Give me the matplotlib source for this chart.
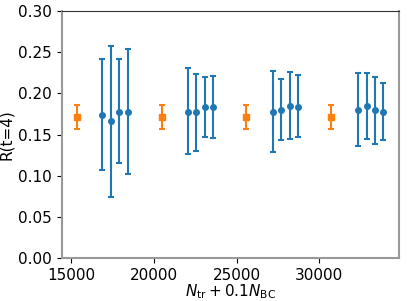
import matplotlib
matplotlib.use("Agg")
from matplotlib import pyplot as plt
import numpy as np

# --- data ---
ref_x = [15360, 20480, 25600, 30720]
ref_y = [0.171, 0.171, 0.171, 0.171]
ref_lo = [0.157, 0.157, 0.157, 0.157]
ref_hi = [0.186, 0.186, 0.186, 0.186]

run_x = [16880, 17380, 17910, 18430,
         22030, 22530, 23060, 23580,
         27180, 27700, 28230, 28730,
         32350, 32880, 33380, 33890]
run_y = [0.174, 0.166, 0.178, 0.178,
         0.178, 0.177, 0.183, 0.184,
         0.177, 0.180, 0.185, 0.184,
         0.180, 0.185, 0.180, 0.178]
run_lo = [0.107, 0.074, 0.116, 0.102,
          0.126, 0.130, 0.147, 0.146,
          0.129, 0.143, 0.145, 0.147,
          0.136, 0.144, 0.139, 0.143]
run_hi = [0.242, 0.258, 0.242, 0.254,
          0.231, 0.224, 0.220, 0.221,
          0.227, 0.217, 0.226, 0.222,
          0.225, 0.225, 0.220, 0.213]

fig = plt.figure(figsize=(4.07, 3.01), dpi=100)
ax = fig.add_axes([0.152, 0.143, 0.828, 0.820])

def draw(x, y, lo, hi, color, marker):
    y = np.array(y)
    yerr = [y - np.array(lo), np.array(hi) - y]
    ax.errorbar(x, y, yerr=yerr, fmt=marker, color=color,
                markersize=4, elinewidth=1.5, capsize=2.5,
                capthick=1.5, zorder=3)

draw(ref_x, ref_y, ref_lo, ref_hi, "#ff7f0e", "s")
draw(run_x, run_y, run_lo, run_hi, "#1f77b4", "o")

ax.set_xlim(14420, 34830)
ax.set_ylim(0, 0.30)
ax.set_xticks([15000, 20000, 25000, 30000])
ax.set_yticks(np.arange(0, 0.31, 0.05))
ax.set_yticklabels(["%.2f" % v for v in np.arange(0, 0.31, 0.05)])
ax.tick_params(labelsize=11)

for side in ["left", "bottom", "right"]:
    ax.spines[side].set_color("#999999")
    ax.spines[side].set_linewidth(1.5)
ax.spines["top"].set_color("#333333")

ax.set_xlabel(r"$N_{\rm tr} + 0.1 N_{\rm BC}$", fontsize=11, labelpad=0)
ax.set_ylabel("R(t=4)", fontsize=11, labelpad=3)

fig.savefig("out.png", dpi=100)
